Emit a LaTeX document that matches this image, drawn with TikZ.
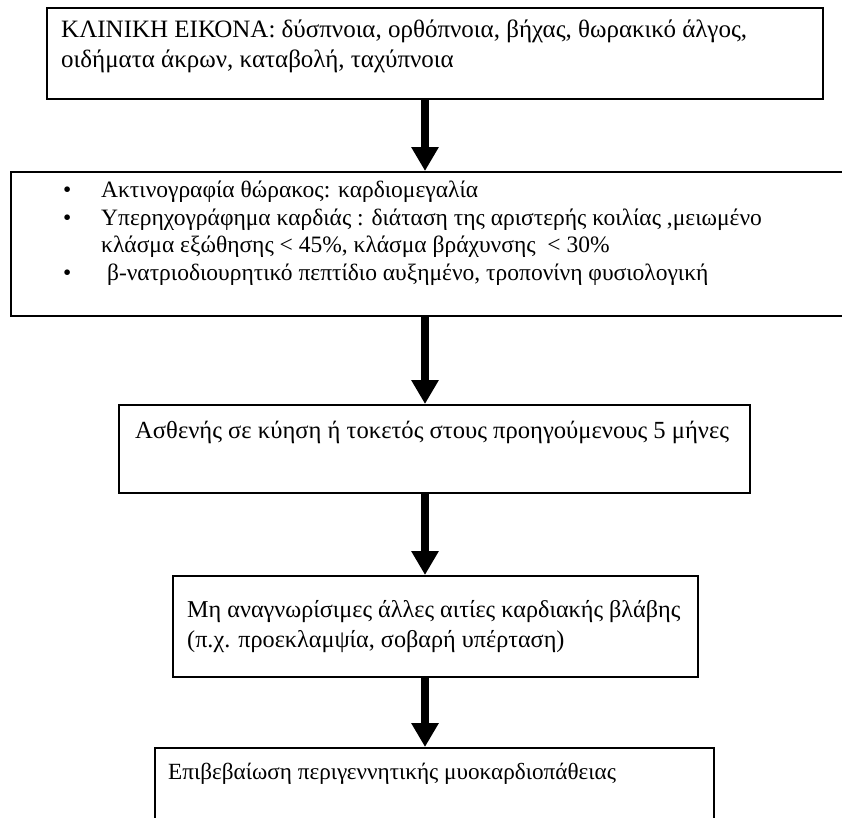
\documentclass[tikz,border=0pt]{standalone}
\usepackage{fontspec}
\setmainfont{Liberation Serif}
\usetikzlibrary{arrows.meta}
\begin{document}
\begin{tikzpicture}[x=1pt,y=-1pt,
  box/.style={draw, line width=1.6pt, anchor=north west, inner sep=0pt},
  txt/.style={anchor=north west, align=left, inner sep=0pt, font=\fontsize{25}{30}\selectfont},
  txtb/.style={txt, font=\fontsize{23.5}{27.8}\selectfont},
  arr/.style={line width=8pt, -{Triangle[width=26pt,length=24pt]}}]
\useasboundingbox (0,0) rectangle (842,817);
\clip (0,0) rectangle (842,817);
\fill[white] (0,0) rectangle (842,817);
% boxes
\node[box, minimum width=776pt, minimum height=91pt] (b1) at (46,7) {};
\node[box, minimum width=860pt, minimum height=144pt] (b2) at (10,171) {};
\node[box, minimum width=631pt, minimum height=88pt] (b3) at (118,404) {};
\node[box, minimum width=525pt, minimum height=101pt] (b4) at (172,575) {};
\node[box, minimum width=559pt, minimum height=100pt] (b5) at (154,747) {};
% texts
\node[txt] (t1) at (61,19.5) {ΚΛΙΝΙΚΗ ΕΙΚΟΝΑ: δύσπνοια, ορθόπνοια, βήχας, θωρακικό άλγος,\\οιδήματα άκρων, καταβολή, ταχύπνοια};
\node[txtb] (t2) at (63,180.5) {\makebox[38pt][l]{•}Ακτινογραφία θώρακος: καρδιομεγαλία\\
\makebox[38pt][l]{•}Υπερηχογράφημα καρδιάς : διάταση της αριστερής κοιλίας ,μειωμένο\\
\hspace*{38pt}κλάσμα εξώθησης < 45\%, κλάσμα βράχυνσης \ < 30\%\\
\makebox[38pt][l]{•}\ β-νατριοδιουρητικό πεπτίδιο αυξημένο, τροπονίνη φυσιολογική};
\node[txt, font=\fontsize{24.6}{30}\selectfont] (t3) at (135,420.5) {Ασθενής σε κύηση ή τοκετός στους προηγούμενους 5 μήνες};
\node[txt, font=\fontsize{24.2}{30}\selectfont] (t4) at (187,600) {Μη αναγνωρίσιμες άλλες αιτίες καρδιακής βλάβης\\(π.χ. προεκλαμψία, σοβαρή υπέρταση)};
\node[txt, font=\fontsize{23.2}{28}\selectfont] (t5) at (168,763) {Επιβεβαίωση περιγεννητικής μυοκαρδιοπάθειας};
% arrows
\coordinate (ax) at (425,0);
\draw[arr] (b1.south -| ax) -- (b2.north -| ax);
\draw[arr] (b2.south -| ax) -- (b3.north -| ax);
\draw[arr] (b3.south -| ax) -- (b4.north -| ax);
\draw[arr] (b4.south -| ax) -- (b5.north -| ax);
\end{tikzpicture}
\end{document}
